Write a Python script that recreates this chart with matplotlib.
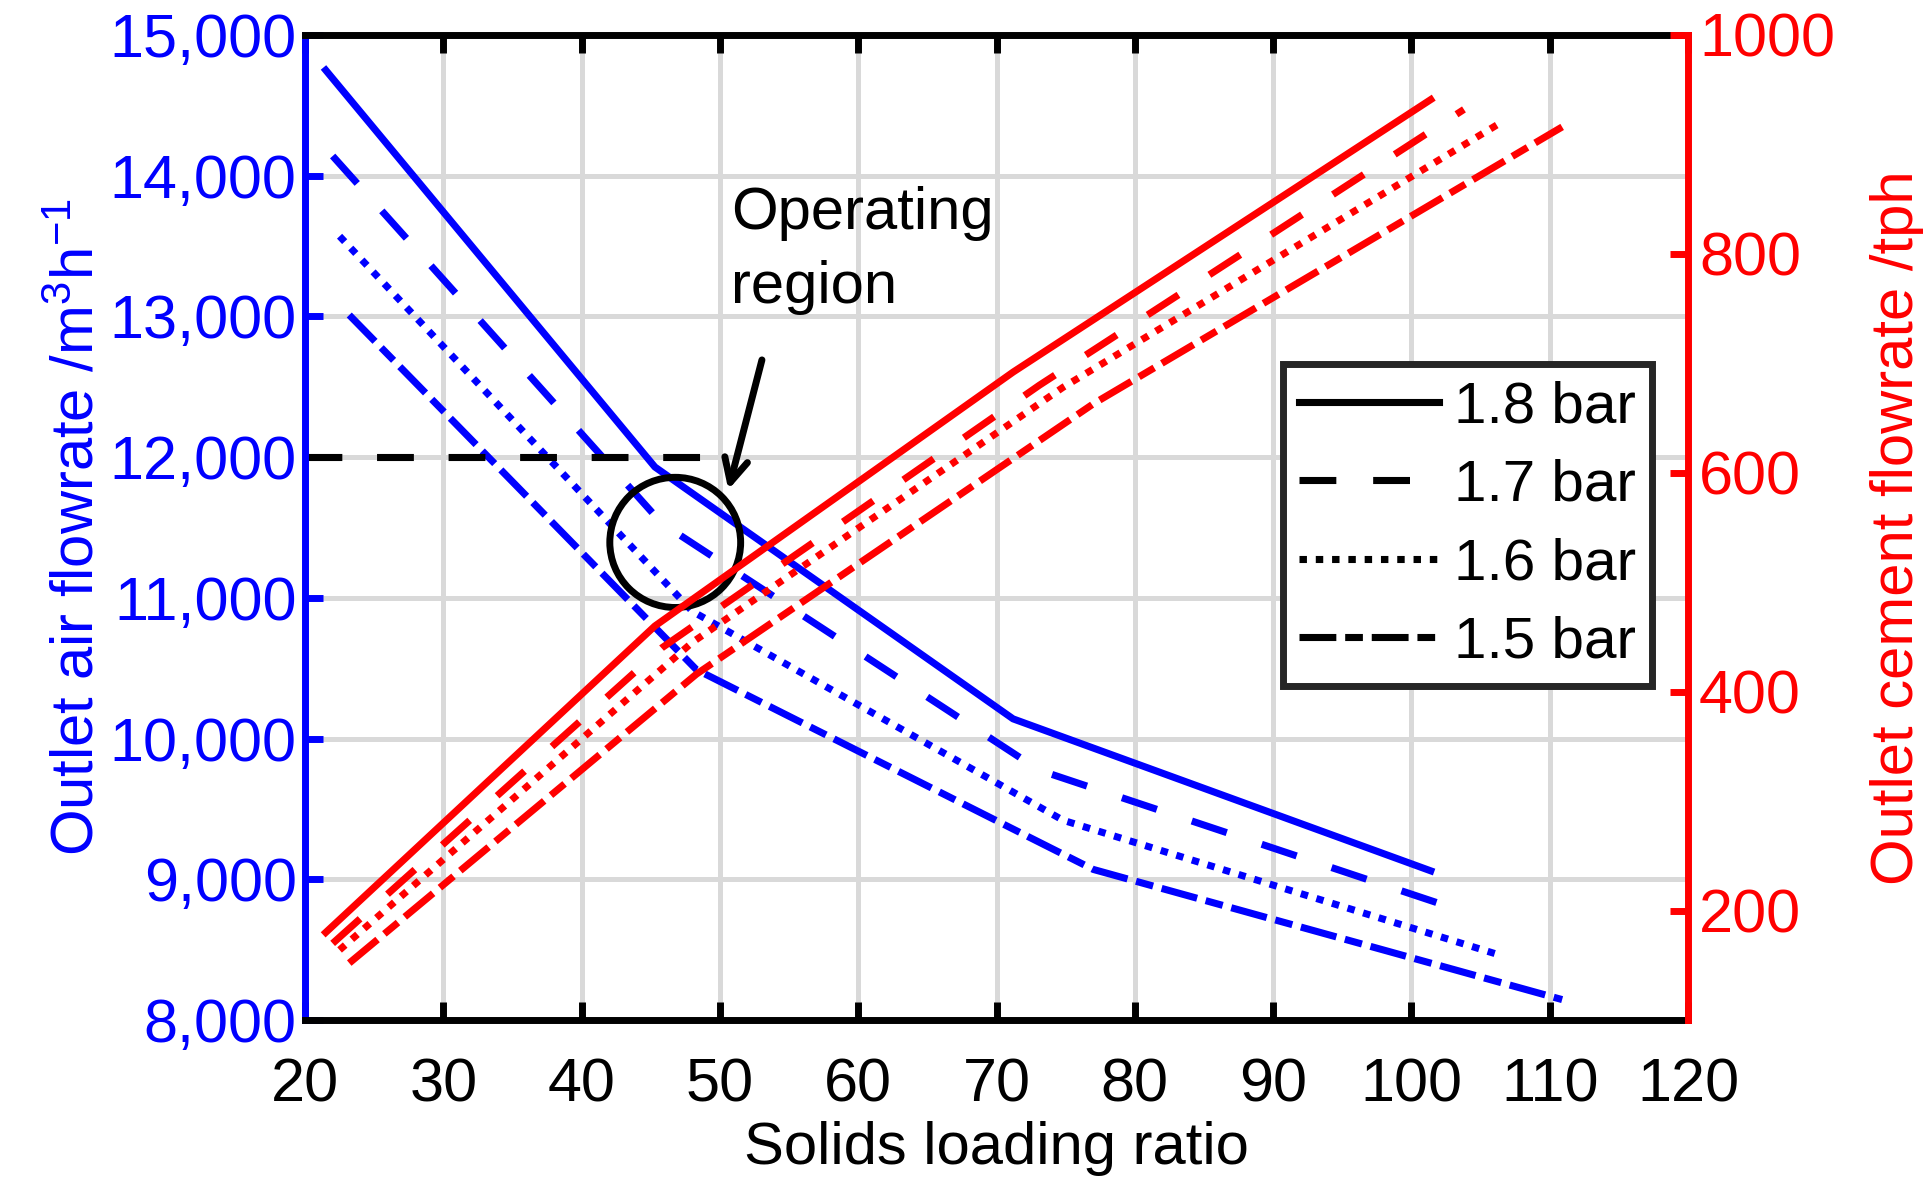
import matplotlib
matplotlib.use('Agg')
from matplotlib import pyplot as plt
from matplotlib.lines import Line2D
from matplotlib.patches import Ellipse
from matplotlib.ticker import StrMethodFormatter

plt.rcParams['font.family'] = ['Liberation Sans', 'DejaVu Sans']
plt.rcParams['mathtext.fontset'] = 'custom'
plt.rcParams['mathtext.rm'] = 'Liberation Sans'
plt.rcParams['mathtext.it'] = 'Liberation Sans:italic'
plt.rcParams['mathtext.bf'] = 'Liberation Sans:bold'

labels = ['1.8 bar', '1.7 bar', '1.6 bar', '1.5 bar']

# Solids loading ratio at the simulated points, one list per inlet pressure
slr_18 = [21.5, 45.3, 71.2, 101.4]
slr_17 = [22.0, 45.8, 73.1, 103.8]
slr_16 = [22.5, 48.0, 74.8, 106.6]
slr_15 = [23.2, 48.3, 77.0, 110.9]

# Outlet air flowrate, m3/h
air_18 = [14750, 11930, 10140, 9060]
air_17 = [14140, 11530, 9775, 8770]
air_16 = [13570, 10905, 9420, 8455]
air_15 = [13010, 10490, 9070, 8145]

# Outlet cement flowrate, tph
cement_18 = [180, 460, 692, 941]
cement_17 = [170, 440, 680, 932]
cement_16 = [164, 445, 678, 921]
cement_15 = [152, 416, 663, 916]

slrs = [slr_18, slr_17, slr_16, slr_15]
airs = [air_18, air_17, air_16, air_15]
cements = [cement_18, cement_17, cement_16, cement_15]

styles = ['-', (0, (5.2, 5.2)), (0, (1.05, 1.25)), (0, (5.2, 1.25, 2.5, 1.25))]
lw = 5.1
fs = 44
label_fs = 43
legend_fs = 42

fig = plt.figure(figsize=(19.23, 11.91), dpi=100)
ax = fig.add_axes([305 / 1923, 1 - 1020 / 1191, (1688 - 305) / 1923, (1020 - 35) / 1191])
ax2 = ax.twinx()

for x, y, ls in zip(slrs, airs, styles):
	ax.plot(x, y, color='blue', lw=lw, ls=ls)

for x, y, ls in zip(slrs, cements, styles):
	ax2.plot(x, y, color='red', lw=lw, ls=ls)

# design air flowrate and the operating window
ax.plot([20, 50], [12000, 12000], color='k', lw=lw, ls=(0, (5.2, 4.9)))
ax.add_patch(Ellipse((46.77, 11394), width=9.46, height=925, fill=False, lw=5, ec='k', zorder=5))
ax.annotate('', xy=(50.56, 11749), xytext=(53.09, 12710),
	arrowprops=dict(arrowstyle='->', lw=5, color='k', mutation_scale=42))
ax.text(50.8, 13930, 'Operating\nregion', fontsize=label_fs, va='top', ha='left', linespacing=1.45)

ax.set_xlim(20, 120)
ax.set_ylim(8000, 15000)
ax2.set_ylim(100, 1000)
ax.set_xticks(range(20, 121, 10))
ax.set_yticks(range(8000, 15001, 1000))
ax2.set_yticks(range(200, 1001, 200))
ax.yaxis.set_major_formatter(StrMethodFormatter('{x:,.0f}'))

ax.grid(True, color='#d9d9d9', lw=3.6)
ax.set_axisbelow(True)

for side in ['top', 'bottom']:
	ax.spines[side].set_color('k')
	ax.spines[side].set_linewidth(5)
ax.spines['left'].set_color('blue')
ax.spines['left'].set_linewidth(5)
ax.spines['right'].set_visible(False)
for side in ['top', 'bottom', 'left']:
	ax2.spines[side].set_visible(False)
ax2.spines['right'].set_color('red')
ax2.spines['right'].set_linewidth(5)

ax.tick_params(axis='x', direction='in', length=13, width=5, top=True, colors='k', labelsize=fs, pad=27)
ax.tick_params(axis='y', direction='in', length=13, width=5, colors='blue', labelsize=fs, pad=6)
ax2.tick_params(axis='y', direction='in', length=13, width=5, colors='red', labelsize=fs, pad=8)

ax.set_xlabel('Solids loading ratio', fontsize=label_fs, labelpad=5)
ax.set_ylabel('Outlet air flowrate /m$^3$h$^{-1}$', fontsize=label_fs, color='blue', labelpad=3)
ax2.set_ylabel('Outlet cement flowrate /tph', fontsize=label_fs, color='red', labelpad=25)

handles = [Line2D([], [], color='k', lw=lw, ls=ls) for ls in styles]
leg = ax2.legend(handles, labels, loc='upper right', bbox_to_anchor=(0.974, 0.666),
	fontsize=legend_fs, handlelength=2.4, handletextpad=0.25, labelspacing=0.42,
	borderpad=0.28, borderaxespad=0, fancybox=False, framealpha=1)
leg.get_frame().set_edgecolor('#262626')
leg.get_frame().set_linewidth(5)

fig.savefig('out.png', dpi=100)
